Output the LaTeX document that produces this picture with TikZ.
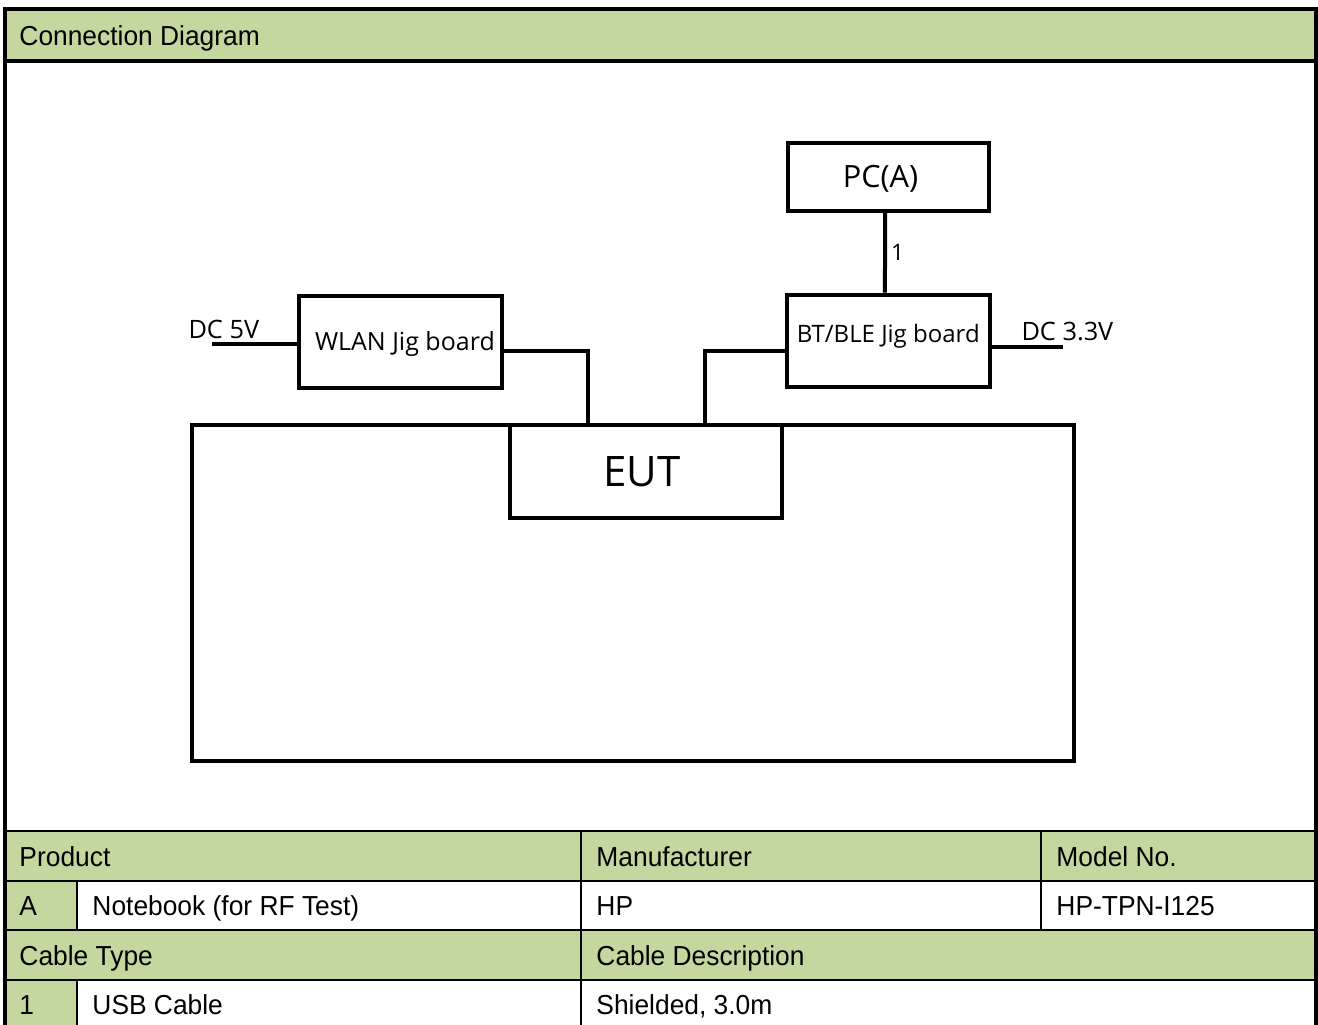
\documentclass[tikz,border=0pt]{standalone}
\usepackage{fontspec}
\setmainfont{Liberation Sans}
\newfontfamily\diagfont{Open Sans}
\usetikzlibrary{calc}
\definecolor{hdrgreen}{RGB}{196,215,158}
\tikzset{every picture/.style={line width=0.75pt}}
\tikzset{
  blk/.style={draw, line width=3pt, inner sep=0pt, font=\diagfont, text depth=0pt},
  wire/.style={line width=3pt},
  celltxt/.style={anchor=base west, inner sep=0pt, xscale=0.96, font=\fontsize{20.6}{24}\selectfont},
  dclbl/.style={anchor=base west, inner sep=0pt, font=\diagfont\fontsize{19}{22}\selectfont},
  gridline/.style={line width=1.5pt},
  tblframe/.style={line width=2.5pt},
}

\begin{document}
\begin{tikzpicture}[x=0.75pt,y=0.75pt,yscale=-1,xscale=1]
\useasboundingbox (0,0) rectangle (1318,1025);

%Shape: header fills
\fill[hdrgreen] (5,9) rectangle (1316,61);
\fill[hdrgreen] (5,831) rectangle (1316,881);
\fill[hdrgreen] (5,881) rectangle (77,930);
\fill[hdrgreen] (5,930) rectangle (1316,980);
\fill[hdrgreen] (5,980) rectangle (77,1030);

%Straight Lines: table grid
\draw[gridline] (5,831) -- (1316,831) (5,881) -- (1316,881) (5,930) -- (1316,930) (5,980) -- (1316,980);
\draw[gridline] (77,881) -- (77,930) (77,980) -- (77,1030);
\draw[gridline] (581,831) -- (581,1030) (1041,831) -- (1041,930);
\draw[tblframe] (5,61) -- (1316,61);
\draw[tblframe] (5,1030) -- (5,9) -- (1316,9) -- (1316,1030);

% Text Node
\node[celltxt] (title) at (19,45) {Connection Diagram};
\node[celltxt] (prodhdr) at (19,866.5) {Product};
\node[celltxt] (mfrhdr) at (596,866.5) {Manufacturer};
\node[celltxt] (modelhdr) at (1056,866.5) {Model No.};
\node[celltxt] (prodid) at (19,915.5) {A};
\node[celltxt] (prodname) at (92,915.5) {Notebook (for RF Test)};
\node[celltxt] (prodmfr) at (596,915.5) {HP};
\node[celltxt] (prodmodel) at (1056,915.5) {HP-TPN-I125};
\node[celltxt] (cabhdr) at (19,965) {Cable Type};
\node[celltxt] (cabdeschdr) at (596,965) {Cable Description};
\node[celltxt] (cabid) at (19,1014) {1};
\node[celltxt] (cabname) at (92,1014) {USB Cable};
\node[celltxt] (cabdesc) at (596,1014) {Shielded, 3.0m};

%Shape: EUT body and boxes
\node[blk, minimum width=882*0.75pt, minimum height=335.5*0.75pt] (body) at (633,592.75) {};
\node[blk, minimum width=272*0.75pt, minimum height=93*0.75pt, text height=22.5pt, font=\diagfont\fontsize{31.5}{34}\selectfont] (eut) at (646,471.5) {EUT\kern6.5pt};
\node[blk, minimum width=201*0.75pt, minimum height=68*0.75pt, text height=16.4pt, font=\diagfont\fontsize{23}{26}\selectfont] (pc) at (888.5,176.5) {PC(A)\kern12pt};
\node[blk, minimum width=203.5*0.75pt, minimum height=92.5*0.75pt, text height=13.4pt, font=\diagfont\fontsize{18.75}{22}\selectfont] (wlan) at (400.25,341.75) {\kern7pt WLAN Jig board};
\node[blk, minimum width=203.5*0.75pt, minimum height=92.5*0.75pt, text height=12.9pt, text depth=9.75pt, font=\diagfont\fontsize{18}{22}\selectfont] (bt) at (888.25,340.75) {BT/BLE Jig board};

%Straight Lines: cables
\coordinate (wport) at (588,425);
\coordinate (bport) at (705,425);
\coordinate (dc5) at (212,344);
\coordinate (dc33) at (1063,347);
\draw[wire] ([xshift=-2.5pt]pc.south) -- ([xshift=-2.5pt]bt.north) node[pos=0.5, right, inner sep=3pt, font=\diagfont\fontsize{17}{19}\selectfont] (cablbl) {1};
\draw[wire] ($(wlan.east)+(0,9.25)$) -| (wport);
\draw[wire] ($(bt.west)+(0,10.25)$) -| (bport);
\draw[wire] (dc5) -- (dc5 -| wlan.west);
\draw[wire] (dc33 -| bt.east) -- (dc33);

% Text Node
\node[dclbl] (dc5lbl) at (188,338) {DC 5V};
\node[dclbl] (dc33lbl) at (1021,340) {DC 3.3V};

\end{tikzpicture}
\end{document}
